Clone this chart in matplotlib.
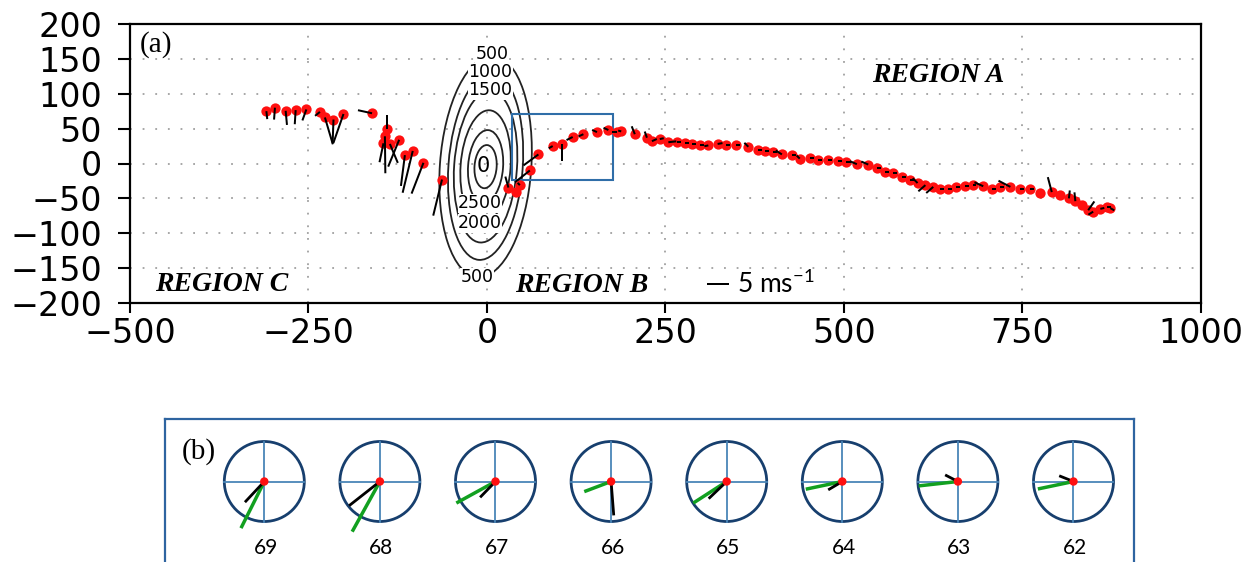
import matplotlib
matplotlib.use('Agg')
import matplotlib.pyplot as plt
from matplotlib.patches import Ellipse, Rectangle, Circle

# ============================================
# DATOS
# ============================================

# Trayectoria (km) de las regiones C, B y A
track_x = [
    -309, -297, -282, -268, -253, -234, -227, -215, -201, -161,
    -140, -143, -145, -136, -123, -115, -104, -89, -63,
    30, 41, 46, 60, 72, 92, 105, 120, 135, 154, 170, 182, 188,
    207, 224, 231, 242, 254, 266, 277, 287, 298, 310,
    323, 335, 349, 366, 380, 390, 401, 413, 427, 438,
    452, 464, 478, 491, 503, 518, 534, 546, 557, 568,
    581, 593, 603, 614, 625, 635, 646, 657, 670, 680,
    695, 707, 719, 733, 747, 760, 775, 791, 803, 815,
    824, 833, 842, 849, 859, 868, 873,
]
track_y = [
    75, 80, 75.5, 76.5, 77.5, 74, 66, 63, 71, 72,
    50, 39, 29, 28, 34, 12, 18, 1, -23,
    -34.5, -41, -31, -10, 13, 25, 28, 38, 42, 45, 48, 45, 46,
    42, 37, 32, 35, 30.5, 31, 30, 28, 27, 26,
    28, 27, 27, 24, 19, 18, 16, 13, 11.5, 7,
    8.6, 5, 5, 4, 2, -1, -1.5, -7, -12, -14,
    -19, -24, -28, -31, -33.5, -36, -36, -33.5, -32, -31,
    -32.6, -36, -34.4, -33.5, -36, -36, -42, -41, -45.5, -50,
    -54, -60, -67, -69, -65, -63, -64,
]

# Viento en cada punto (m/s)
wind_u = [
    0.2, -0.2, 0.3, -0.2, -0.9, -1.1, 1.8, -0.2, -2.3, -3.2,
    0.0, 0.1, -0.9, 1.8, -2.5, -0.9, -2.3, -2.7, -2.0,
    -0.7, 0.0, -0.5, -3.4, -3.4, -0.9, 0.0, -1.4, -1.1, -1.1, -1.1, -1.1, -0.7,
    -0.7, -0.5, 1.1, 0.9, 1.8, 0.9, 0.9, 0.9, 0.9, -0.9,
    1.1, 0.9, 0.9, -0.9, 0.9, 0.9, 0.9, -1.4, 0.9, -0.7,
    0.9, 0.9, 0.9, 0.9, 1.1, -1.6, -1.6, 0.9, 0.9, 0.9,
    0.9, 0.9, -1.1, -1.6, -1.6, 0.9, 0.9, 0.9, 0.9, 0.9,
    -2.0, 0.9, 0.9, -2.7, 0.9, 0.9, 0.0, -0.9, 0.0, 0.2,
    -0.2, 0.0, 1.4, -1.1, 0.9, 0.9, 0.9,
]
wind_v = [
    -1.8, -2.7, -3.2, -3.2, -2.5, -0.9, -6.1, -5.4, -6.6, 0.7,
    3.2, -8.4, -4.3, -4.3, -6.1, -7.0, -9.5, -7.0, -8.2,
    2.5, 0.0, 0.5, -2.7, -2.5, -0.5, -3.9, -0.7, -0.5, 0.5, 0.5, 0.0, 0.2,
    1.8, 1.4, 0.5, 0.2, 0.2, 0.0, 0.0, 0.0, 0.0, -0.2,
    0.2, 0.0, 0.0, 0.9, 0.0, 0.0, 0.0, 0.9, 0.0, 0.7,
    0.0, 0.0, 0.0, 0.0, 0.0, 0.7, 0.7, 0.0, 0.0, 0.0,
    0.0, 0.0, 1.1, -1.4, -1.4, 0.0, 0.0, 0.0, 0.0, 0.0,
    0.9, 0.0, 0.0, 1.4, 0.0, 0.0, 0.0, 3.4, 0.0, 1.8,
    2.0, 0.0, 2.0, -0.7, 0.2, 0.0, -0.5,
]

# Contornos del terreno (m): semiejes de cada elipse (km)
contour_levels = [500, 1000, 1500, 2000, 2500, 3000]
contour_half_x = [64, 52, 44, 35, 24.5, 15.5]
contour_half_y = [159, 134, 109, 81, 52.5, 31]

# Recuadro de la region B (km)
box_x = [35.5, 176]
box_y = [-24, 71]

# Panel (b): horas y vectores (verde y negro)
hours = ['69', '68', '67', '66', '65', '64', '63', '62']
green_u = [-5.3, -6.3, -8.9, -6.1, -7.6, -8.3, -8.9, -8.1]
green_v = [-10.6, -11.4, -4.9, -2.3, -4.9, -1.75, -1.0, -1.7]
black_u = [-4.4, -7.0, -3.5, 0.6, -4.1, -3.2, -2.9, -3.25]
black_v = [-4.7, -5.5, -3.6, -7.7, -3.9, -1.9, 1.5, 1.3]

# ============================================
# CONFIGURACION
# ============================================

W, H = 1249, 562
PX_PER_MS = 22 / 5.0  # 5 m/s -> 22 px

plt.rcParams['mathtext.fontset'] = 'custom'
plt.rcParams['mathtext.rm'] = 'Lato'
plt.rcParams['axes.unicode_minus'] = True


def panel_a(fig):
    ax = fig.add_axes([130 / W, 1 - 303 / H, 1071 / W, 279 / H])
    ax.set_xlim(-500, 1000)
    ax.set_ylim(-200, 200)
    ax.set_xticks([-500, -250, 0, 250, 500, 750, 1000])
    ax.set_yticks(range(-200, 201, 50))
    ax.tick_params(axis='both', labelsize=24, width=1.5, direction='out')
    ax.tick_params(axis='y', length=9, pad=11)
    ax.tick_params(axis='x', length=7, pad=3)
    for s in ax.spines.values():
        s.set_linewidth(1.6)
    ax.grid(True, color='#a0a0a0', linestyle=(0, (1, 6)), linewidth=1.3)
    ax.set_axisbelow(True)

    # Contornos (elipses)
    for lev, hx, hy in zip(contour_levels, contour_half_x, contour_half_y):
        ax.add_patch(Ellipse((-2, -4.5), 2 * hx, 2 * hy, angle=-4,
                             fill=False, edgecolor='#222222', lw=1.3, zorder=2))
    lab_kw = dict(fontsize=12.5, ha='center', va='center', zorder=3,
                  bbox=dict(facecolor='white', edgecolor='none', pad=0.3))
    ax.text(7, 157, '500', **lab_kw)
    ax.text(5, 131, '1000', **lab_kw)
    ax.text(5, 105, '1500', **lab_kw)
    ax.text(-5, -4, '0', fontsize=15, ha='center', va='center', zorder=3)
    ax.text(-10, -57, '2500', **lab_kw)
    ax.text(-10, -86, '2000', **lab_kw)
    ax.text(-14, -163, '500', **lab_kw)

    # Recuadro
    ax.add_patch(Rectangle((box_x[0], box_y[0]), box_x[1] - box_x[0],
                           box_y[1] - box_y[0], fill=False,
                           edgecolor='#2f6ea8', lw=1.5, zorder=3))

    # Puntos y viento
    ax.scatter(track_x, track_y, s=55, color='#ff1010', zorder=4, linewidths=0)
    q = ax.quiver(track_x, track_y, wind_u, wind_v, angles='uv',
                  scale_units='dots', scale=1 / PX_PER_MS, units='dots',
                  width=2.0, headwidth=0, headlength=0, headaxislength=0,
                  pivot='tail', minlength=0, color='k', zorder=5)
    ax.quiverkey(q, 729 / W, 1 - 284 / H, 5, '5 ms$^{-1}$', labelpos='E',
                 coordinates='figure', labelsep=0.08,
                 fontproperties={'family': 'Lato', 'size': 19})

    # Textos
    ax.text(0.009, 0.925, '(a)', transform=ax.transAxes, fontsize=21,
            family='Liberation Serif', va='center')
    reg_kw = dict(transform=ax.transAxes, fontsize=20, family='Liberation Serif',
                  weight='bold', style='italic', va='center')
    ax.text(0.693, 0.814, 'REGION A', **reg_kw)
    ax.text(0.0233, 0.068, 'REGION C', **reg_kw)
    ax.text(0.3595, 0.064, 'REGION B', **reg_kw)
    return ax


def panel_b(fig):
    ax = fig.add_axes([165 / W, 0, 969 / W, 143 / H])
    ax.set_xlim(0, 969)
    ax.set_ylim(0, 143)
    ax.set_xticks([])
    ax.set_yticks([])
    for name, s in ax.spines.items():
        s.set_edgecolor('#2e64a0')
        s.set_linewidth(1.6)
    ax.spines['bottom'].set_visible(False)

    ax.text(16.5, 110, '(b)', fontsize=21, family='Liberation Serif', va='center')
    r = 40
    cy = 80.5
    for i, h in enumerate(hours):
        cx = 99.3 + 115.6 * i
        ax.add_patch(Circle((cx, cy), r, fill=False, edgecolor='#173f6e', lw=2.0))
        ax.plot([cx - r, cx + r], [cy, cy], color='#4a86b8', lw=1.3)
        ax.plot([cx, cx], [cy - r, cy + r], color='#4a86b8', lw=1.3)
        ax.plot([cx, cx + green_u[i] * PX_PER_MS], [cy, cy + green_v[i] * PX_PER_MS],
                color='#12a020', lw=2.5, solid_capstyle='butt')
        ax.plot([cx, cx + black_u[i] * PX_PER_MS], [cy, cy + black_v[i] * PX_PER_MS],
                color='black', lw=2.0, solid_capstyle='butt')
        ax.add_patch(Circle((cx, cy), 3.5, color='#ff1010', zorder=5))
        ax.text(cx + 1.5, 14, h, fontsize=15, family='Lato', ha='center', va='center')
    return ax


def main():
    fig = plt.figure(figsize=(W / 100, H / 100), dpi=100)
    panel_a(fig)
    panel_b(fig)
    fig.savefig('out.png', dpi=100)


if __name__ == "__main__":
    main()
